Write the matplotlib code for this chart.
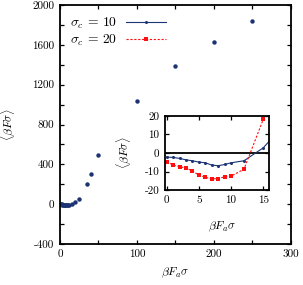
import matplotlib
matplotlib.use("Agg")
import matplotlib.pyplot as plt

plt.rcParams['font.family'] = ['cmr10', 'DejaVu Serif']
plt.rcParams['mathtext.fontset'] = 'cm'
plt.rcParams['axes.unicode_minus'] = False
plt.rcParams['axes.formatter.use_mathtext'] = True

# main panel: sigma_c = 10
x_main = [0, 1, 2, 3, 4, 5, 6, 7, 8, 9, 10, 12, 15, 20, 25, 35, 40, 50, 100, 150, 200, 250]
y_main = [-2.2, -2.4, -2.9, -3.7, -4.2, -4.9, -5.3, -6.5, -6.9, -6.2, -5.3, -4.4, 2.7,
          22, 55, 199, 300, 493, 1033, 1384, 1625, 1840]

# inset
x_in = [0, 1, 2, 3, 4, 5, 6, 7, 8, 9, 10, 12, 15, 20]
y10 = [-2.2, -2.4, -2.9, -3.7, -4.2, -4.9, -5.3, -6.5, -6.9, -6.2, -5.3, -4.2, 2.8, 22]
y20 = [-4.7, -6.5, -7.3, -8.2, -9.6, -12.0, -13.1, -14.0, -13.8, -12.9, -12.5, -8.8, 18.2, 80]

blue = '#1c3474'
red = '#ff1010'

fig = plt.figure(figsize=(3.03, 2.85), dpi=100)
ax = fig.add_axes([0.198, 0.144, 0.761, 0.838])
ax.plot(x_main, y_main, 'o', color=blue, ms=3.2, mew=0)
ax.set_xlim(0, 300)
ax.set_ylim(-400, 2000)
ax.set_xticks(range(0, 301, 50))
ax.set_xticklabels(['0', '', '100', '', '200', '', '300'])
ax.set_yticks(range(-400, 2001, 200))
ax.set_yticklabels([str(v) if v % 400 == 0 else '' for v in range(-400, 2001, 200)])
ax.tick_params(direction='in', top=True, right=True, length=3, width=0.9, labelsize=8, pad=4)
for s in ax.spines.values():
    s.set_linewidth(1.3)
ax.set_xlabel(r'$\beta F_a\sigma$', fontsize=8.5, va='center')
ax.set_ylabel(r'$\langle\beta F\sigma\rangle$', fontsize=8.5, va='center')
ax.xaxis.set_label_coords(0.5, -0.12)
ax.yaxis.set_label_coords(-0.225, 0.5)

ins = fig.add_axes([0.5436, 0.3333, 0.3444, 0.2597])
ins.axhline(0, color='black', lw=1.3)
l1, = ins.plot(x_in, y10, '-o', color=blue, lw=0.8, ms=2.2, mew=0)
l2, = ins.plot(x_in, y20, '--s', color=red, lw=0.8, ms=2.2, mew=0, dashes=(2, 1.5))
ins.set_xlim(-0.3, 15.9)
ins.set_ylim(-20, 20)
ins.set_xticks([0, 5, 10, 15])
ins.set_xticklabels(['0', '5', '10', '15'])
ins.set_yticks([-20, -10, 0, 10, 20])
ins.set_yticklabels(['-20', '-10', '0', '10', '20'])
ins.tick_params(direction='in', top=True, right=True, length=3, width=0.9, labelsize=8, pad=4)
for s in ins.spines.values():
    s.set_linewidth(1.3)
ins.set_xlabel(r'$\beta F_a\sigma$', fontsize=8.5, va='center')
ins.set_ylabel(r'$\langle\beta F\sigma\rangle$', fontsize=8.5, va='center')
ins.xaxis.set_label_coords(0.55, -0.5)
ins.yaxis.set_label_coords(-0.39, 0.5)

ax.legend([l1, l2], [r'$\sigma_c\,=\,10$', r'$\sigma_c\,=\,20$'], loc='upper left',
          frameon=False, fontsize=9.8, markerfirst=False, handlelength=3.0,
          borderaxespad=0.35, labelspacing=0.15, handletextpad=0.6)

fig.savefig('out.png', dpi=100)
